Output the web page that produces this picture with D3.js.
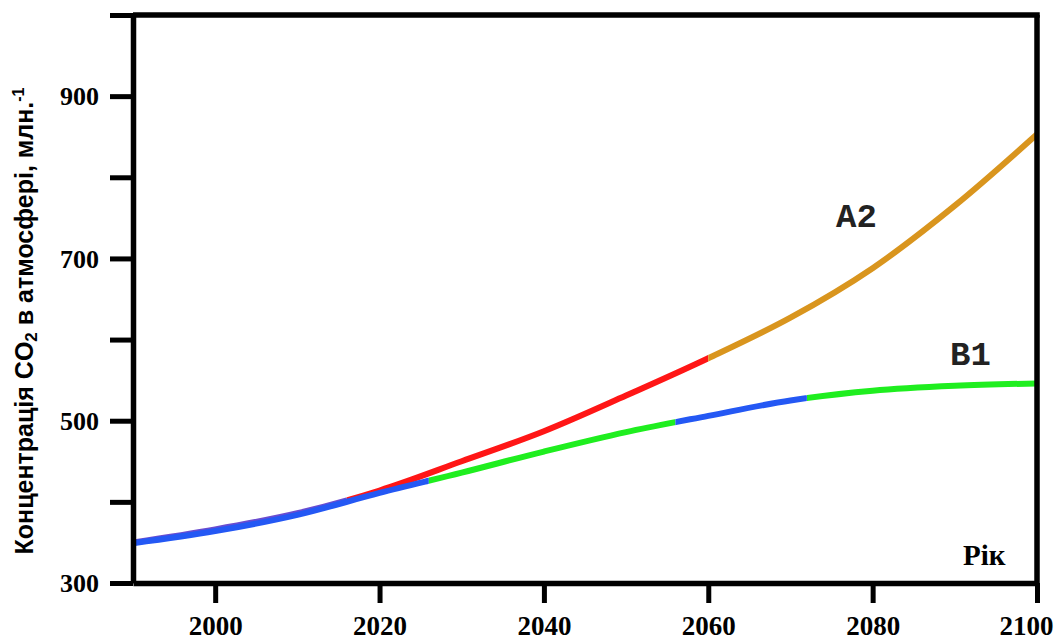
<!DOCTYPE html>
<html>
<head>
<meta charset="utf-8">
<script src="https://cdn.jsdelivr.net/npm/d3@7"></script>
<style>
  html, body { margin: 0; padding: 0; background: #fff; }
  svg { display: block; }
</style>
</head>
<body>
<svg id="chart" width="1058" height="642"></svg>
<script>
// ---------- DATA ----------
const years = [1990, 2000, 2010, 2020, 2030, 2040, 2050, 2060, 2070, 2080, 2090, 2100];
const seriesA2 = [350, 366, 386, 414, 450, 487, 531, 577, 627, 688, 765, 853];
const seriesB1 = [349, 364, 384, 411, 436, 462, 486, 506, 525, 537, 543, 546];
const seriesNames = ["A2", "B1"];
// year ranges of the coloured pieces of each curve
const breaksA2 = [1990, 2016, 2060, 2100];
const breaksB1 = [1990, 2026, 2056, 2072, 2100];
const xTicks = [2000, 2020, 2040, 2060, 2080, 2100];
const yTicks = [300, 400, 500, 600, 700, 800, 900, 1000];
const yTickLabels = [300, 500, 700, 900];
const yTitle = "Концентрація CO";
const xTitle = "Рік";

// ---------- STYLE ----------
const colorsA2 = ["#6a4cd0", "#ff1616", "#d9951e"];
const colorsB1 = ["#2458f4", "#1fee1f", "#2458f4", "#1fee1f"];

const svg = d3.select("#chart");
svg.append("rect").attr("width", 1058).attr("height", 642).attr("fill", "#fff");

const x = d3.scaleLinear().domain([1990, 2100]).range([133, 1037]);
const y = d3.scaleLinear().domain([300, 1000]).range([583, 15]);

const defs = svg.append("defs");
const line = d3.line().x(d => x(d[0])).y(d => y(d[1])).curve(d3.curveCatmullRom.alpha(0.5));

function drawSeries(values, breaks, colors, id) {
  const pts = years.map((yr, i) => [yr, values[i]]);
  for (let i = 0; i < breaks.length - 1; i++) {
    const cid = `clip-${id}-${i}`;
    defs.append("clipPath").attr("id", cid)
      .append("rect")
      .attr("x", x(breaks[i])).attr("y", 0)
      .attr("width", x(breaks[i + 1]) - x(breaks[i]))
      .attr("height", 642);
    svg.append("path")
      .datum(pts)
      .attr("d", line)
      .attr("fill", "none")
      .attr("stroke", colors[i])
      .attr("stroke-width", 6)
      .attr("clip-path", `url(#${cid})`);
  }
}
drawSeries(seriesA2, breaksA2, colorsA2, "a2");
drawSeries(seriesB1, breaksB1, colorsB1, "b1");

// ---------- AXES ----------
const yAxis = d3.axisLeft(y)
  .tickValues(yTicks)
  .tickSize(23)
  .tickSizeOuter(0)
  .tickPadding(11)
  .tickFormat(d => yTickLabels.includes(d) ? String(d) : "");
const gy = svg.append("g").attr("transform", "translate(133,0)").call(yAxis);
gy.select(".domain").attr("stroke", "#000").attr("stroke-width", 5.5);
gy.selectAll(".tick line").attr("stroke", "#000").attr("stroke-width", 5);
gy.selectAll(".tick text")
  .attr("font-family", "'Liberation Serif', 'Times New Roman', serif")
  .attr("font-weight", "bold")
  .attr("font-size", 26)
  .attr("fill", "#000")
  .attr("dy", "0.34em");

const xAxis = d3.axisBottom(x)
  .tickValues(xTicks)
  .tickSize(20)
  .tickSizeOuter(0)
  .tickPadding(0)
  .tickFormat(d3.format("d"));
const gx = svg.append("g").attr("transform", "translate(0,583)").call(xAxis);
gx.select(".domain").attr("stroke", "#000").attr("stroke-width", 5.5);
gx.selectAll(".tick line").attr("stroke", "#000").attr("stroke-width", 5);
gx.selectAll(".tick text")
  .attr("font-family", "'Liberation Serif', 'Times New Roman', serif")
  .attr("font-weight", "bold")
  .attr("font-size", 27)
  .attr("fill", "#000")
  .attr("y", 52)
  .attr("dy", 0);
// last label sits inside the picture's right edge, as in the original
gx.selectAll(".tick text").filter(d => d === 2100)
  .attr("text-anchor", "end")
  .attr("x", 16);

// frame: top and right
svg.append("line")
  .attr("x1", x(1990)).attr("x2", x(2100) + 2.75)
  .attr("y1", y(1000)).attr("y2", y(1000))
  .attr("stroke", "#000").attr("stroke-width", 5.5);
svg.append("line")
  .attr("x1", x(2100)).attr("x2", x(2100))
  .attr("y1", y(1000)).attr("y2", y(300))
  .attr("stroke", "#000").attr("stroke-width", 5.5);

// ---------- LABELS ----------
const yt = svg.append("text")
  .attr("transform", `translate(33,${(82 + 560) / 2}) rotate(-90)`)
  .attr("text-anchor", "middle")
  .attr("font-family", "'Liberation Sans', Arial, sans-serif")
  .attr("font-weight", "bold")
  .attr("font-size", 25)
  .attr("fill", "#000");
yt.append("tspan").text(yTitle);
yt.append("tspan").text("2").attr("font-size", 17).attr("baseline-shift", "-25%");
yt.append("tspan").text(" в атмосфері, млн.");
yt.append("tspan").text("-1").attr("font-size", 16).attr("baseline-shift", "55%");

svg.append("text")
  .attr("x", 963).attr("y", 565)
  .attr("font-family", "'Liberation Serif', 'Times New Roman', serif")
  .attr("font-weight", "bold")
  .attr("font-size", 29)
  .attr("fill", "#000")
  .text(xTitle);

const nameFont = "'Liberation Mono', 'Courier New', monospace";
svg.append("text")
  .attr("x", 836).attr("y", 227)
  .attr("font-family", nameFont).attr("font-weight", "bold")
  .attr("font-size", 34).attr("fill", "#222")
  .text(seriesNames[0]);
svg.append("text")
  .attr("x", 950).attr("y", 365)
  .attr("font-family", nameFont).attr("font-weight", "bold")
  .attr("font-size", 34).attr("fill", "#222")
  .text(seriesNames[1]);
</script>
</body>
</html>
